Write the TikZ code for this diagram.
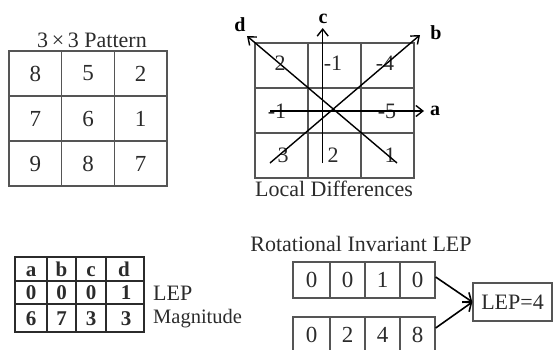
\documentclass[tikz,border=0pt]{standalone}
\usepackage{fontspec}
\setmainfont{Liberation Serif}
\usetikzlibrary{arrows.meta}
\definecolor{ink}{HTML}{2B2B2B}
\definecolor{gridc}{HTML}{555555}
\begin{document}
\begin{tikzpicture}[x=1pt,y=-1pt,
  txt/.style={inner sep=0pt,text=ink,font=\fontsize{22}{24}\selectfont},
  btxt/.style={inner sep=0pt,anchor=base,text=ink,font=\fontsize{21}{23}\selectfont\bfseries},
  lbl/.style={inner sep=0pt,text=black,font=\fontsize{20}{22}\selectfont\bfseries},
  cellA/.style={draw=gridc,line width=1.3pt,minimum width=52.7pt,minimum height=45pt,inner sep=0pt,text=ink,font=\fontsize{23}{25}\selectfont},
  cellB/.style={draw=gridc,line width=1.3pt,minimum width=53pt,minimum height=45pt,inner sep=0pt},
  cellC/.style={draw=gridc,line width=1.3pt,minimum width=35pt,minimum height=36pt,inner sep=0pt,text=ink,font=\fontsize{23}{25}\selectfont},
  dir/.style={draw=black,line width=1.4pt,-{Straight Barb[length=7pt,width=11pt,line width=1.4pt]}},
  conn/.style={draw=black,line width=1.6pt,-{Straight Barb[length=7pt,width=12pt,line width=1.6pt]}}
]
\useasboundingbox (0,0) rectangle (553,349);
\clip (0,0) rectangle (553,349);

% ---- 3x3 pattern ----
\node[txt] (pt) at (92,40) {3\,×\,3 Pattern};
\node[cellA] (g11) at (35.3,73.5) {8};
\node[cellA] (g12) at (88,73.5) {5};
\node[cellA] (g13) at (140.7,73.5) {2};
\node[cellA] (g21) at (35.3,118.5) {7};
\node[cellA] (g22) at (88,118.5) {6};
\node[cellA] (g23) at (140.7,118.5) {1};
\node[cellA] (g31) at (35.3,163.5) {9};
\node[cellA] (g32) at (88,163.5) {8};
\node[cellA] (g33) at (140.7,163.5) {7};

% ---- local differences ----
\node[cellB] (d11) at (281.5,65.5) {};
\node[cellB] (d12) at (334.5,65.5) {};
\node[cellB] (d13) at (387.5,65.5) {};
\node[cellB] (d21) at (281.5,110.5) {};
\node[cellB] (d22) at (334.5,110.5) {};
\node[cellB] (d23) at (387.5,110.5) {};
\node[cellB] (d31) at (281.5,155.5) {};
\node[cellB] (d32) at (334.5,155.5) {};
\node[cellB] (d33) at (387.5,155.5) {};
\node[txt] (v11) at (280,63) {2};
\node[txt] (v12) at (333,63) {-1};
\node[txt] (v13) at (385,63) {-4};
\node[txt] (v21) at (277,111) {-1};
\node[txt] (v23) at (387,111) {-5};
\node[txt] (v31) at (283,155) {3};
\node[txt] (v32) at (333,155) {2};
\node[txt] (v33) at (390,155) {1};

\coordinate (aS) at (270,111);
\coordinate (aE) at (424,111);
\coordinate (cS) at (322.7,163);
\coordinate (cE) at (322.7,28);
\coordinate (bS) at (270,163);
\coordinate (bE) at (420,35);
\coordinate (dS) at (397,163);
\coordinate (dE) at (247,36);
\draw[dir] (aS) -- (aE);
\draw[dir] (cS) -- (cE);
\draw[dir] (bS) -- (bE);
\draw[dir] (dS) -- (dE);
\node[lbl] (la) at (435,111) {a};
\node[lbl] (lb) at (436,33) {b};
\node[lbl] (lc) at (323,19) {c};
\node[lbl] (ld) at (240,25) {d};
\node[txt] (ldt) at (334,189) {Local Differences};

% ---- LEP / magnitude table ----
\draw[draw=ink,line width=2pt] (15,257) rectangle (144,332);
\draw[draw=ink,line width=1.5pt] (15,281) -- (144,281) (15,304) -- (144,304)
  (47,257) -- (47,332) (76,257) -- (76,332) (106,257) -- (106,332);
\node[btxt] (ha) at (31,276.5) {a};
\node[btxt] (hb) at (61.5,276.5) {b};
\node[btxt] (hc) at (91,276.5) {c};
\node[btxt] (hd) at (124,276.5) {d};
\node[btxt] (e1) at (31,299.5) {0};
\node[btxt] (e2) at (61.5,299.5) {0};
\node[btxt] (e3) at (91,299.5) {0};
\node[btxt] (e4) at (126,299.5) {1};
\node[btxt] (m1) at (31,325) {6};
\node[btxt] (m2) at (61.5,325) {7};
\node[btxt] (m3) at (91,325) {3};
\node[btxt] (m4) at (126,325) {3};
\node[txt,anchor=west] (lep) at (153,293) {LEP};
\node[txt,anchor=west,font=\fontsize{20.5}{22}\selectfont] (mag) at (153,319) {Magnitude};

% ---- rotational invariant LEP ----
\node[txt] (rt) at (361,244) {Rotational Invariant LEP};
\node[cellC,minimum width=37pt] (t1) at (311.5,280) {0};
\node[cellC] (t2) at (347.5,280) {0};
\node[cellC] (t3) at (382.5,280) {1};
\node[cellC] (t4) at (417.5,280) {0};
\node[cellC,minimum width=37pt] (w1) at (311.5,335) {0};
\node[cellC] (w2) at (347.5,335) {2};
\node[cellC] (w3) at (382.5,335) {4};
\node[cellC] (w4) at (417.5,335) {8};
\node[draw=gridc,line width=1.3pt,minimum width=79pt,minimum height=38pt,inner sep=0pt,text=ink,font=\fontsize{22}{24}\selectfont] (res) at (512.5,302) {LEP=4};
\draw[conn] ([yshift=3pt]t4.east) -- (res.west);
\draw[conn] ([yshift=7pt]w4.east) -- (res.west);
\end{tikzpicture}
\end{document}
